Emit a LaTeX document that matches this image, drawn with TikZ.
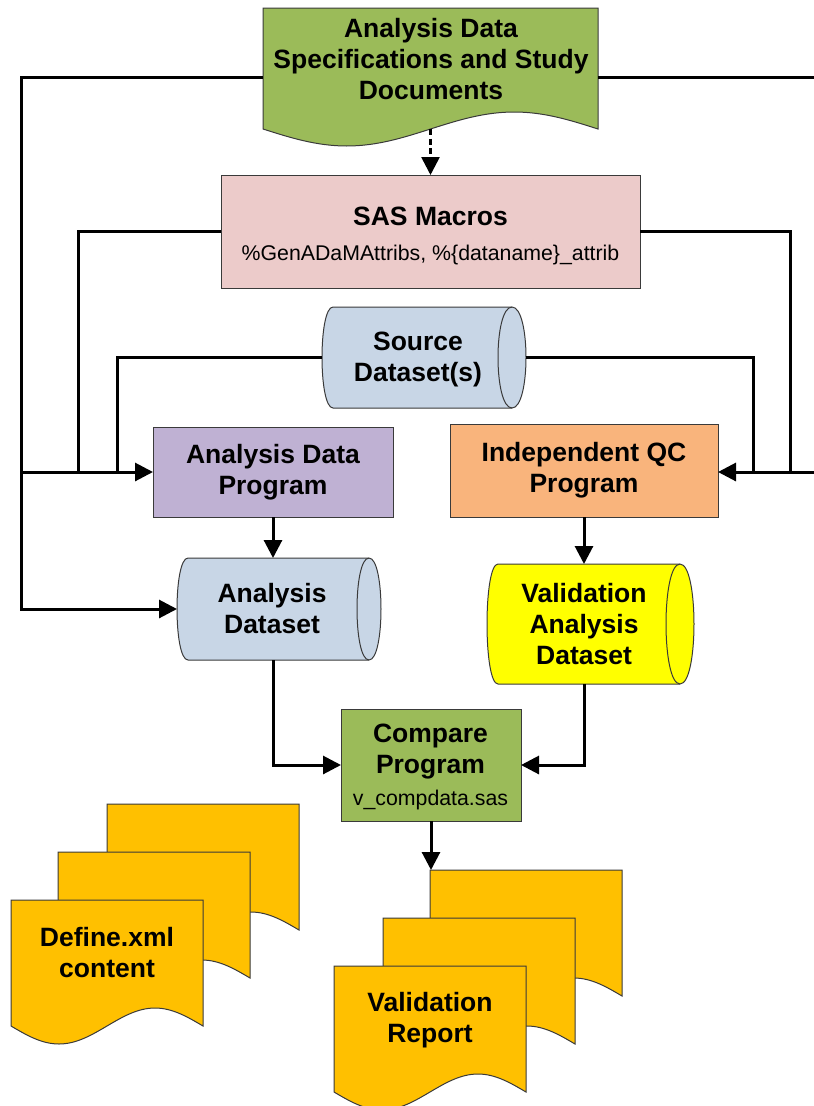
\documentclass[tikz,border=0pt]{standalone}
\usepackage{fontspec}
\setmainfont{Liberation Sans}
\usetikzlibrary{arrows.meta,calc}

\definecolor{specgreen}{HTML}{9BBB59}
\definecolor{macropink}{HTML}{ECCBCA}
\definecolor{datablue}{HTML}{C8D6E6}
\definecolor{progpurple}{HTML}{BFB1D3}
\definecolor{qcorange}{HTML}{F9B47C}
\definecolor{valyellow}{HTML}{FFFF00}
\definecolor{docgold}{HTML}{FFC000}
\definecolor{edgegray}{HTML}{3A3A3A}

\newcommand\lblbig{\bfseries\fontsize{26.5}{31}\selectfont}
\newcommand\lblsmall{\mdseries\fontsize{21.3}{25}\selectfont}

\tikzset{
  shapeline/.style={draw=edgegray, line width=1pt},
  shapeframe/.style={inner sep=0pt, outer sep=0pt},
  procbox/.style={shapeframe, shapeline, align=center, font=\lblbig},
  txt/.style={align=center, inner sep=0pt, outer sep=0pt, font=\lblbig},
  conn/.style={line width=3pt, draw=black},
  arrowed/.style={-{Triangle[length=18pt,width=18pt]}},
  dashedconn/.style={conn, line width=2.6pt, dash pattern=on 6pt off 3.5pt},
}

% document with a wavy bottom edge; the frame's south is the lowest point of the wave
\newcommand\wavydoc[3]{%
  \filldraw[shapeline, fill=#3] (#1.north west) -- (#1.north east)
    -- ($(#1.south east)+(0,-#2)$)
    sin ($(#1.south west)!0.75!(#1.south east)+(0,-2*#2)$)
    cos ($(#1.south west)!0.5!(#1.south east)+(0,-#2)$)
    sin ($(#1.south west)!0.25!(#1.south east)$)
    cos ($(#1.south west)+(0,-#2)$) -- cycle;}

% horizontal data store; the frame is the straight body, #2/#3 the left/right bulges
\newcommand\datastore[4]{%
  \filldraw[shapeline, fill=#4] (#1.north west) -- (#1.north east)
    .. controls ($(#1.north east)+(4/3*#3,0)$) and ($(#1.south east)+(4/3*#3,0)$) .. (#1.south east)
    -- (#1.south west)
    .. controls ($(#1.south west)+(-4/3*#2,0)$) and ($(#1.north west)+(-4/3*#2,0)$) .. (#1.north west)
    -- cycle;
  \draw[shapeline] (#1.north east)
    .. controls ($(#1.north east)+(-4/3*#3,0)$) and ($(#1.south east)+(-4/3*#3,0)$) .. (#1.south east);}

\begin{document}
\begin{tikzpicture}[x=1pt,y=-1pt]
\path[use as bounding box] (0,0) rectangle (814,1106);

% vertical rails of the feed lines and the points where lines leave the sheet
\coordinate (rail-l) at (21,0);
\coordinate (rail-m) at (78,0);
\coordinate (rail-n) at (117,0);
\coordinate (rail-r1) at (753,0);
\coordinate (rail-r2) at (790,0);
\coordinate (edge-t) at (814,77);
\coordinate (edge-b) at (814,472);

% specifications document
\node[shapeframe, minimum width=335pt, minimum height=138pt] (spec) at (430.5,77) {};
\wavydoc{spec}{17}{specgreen}
\node[txt] (spec-t) at (431,59) {Analysis Data\\Specifications and Study\\Documents};
\coordinate (spec-b) at ($(spec.south)+(0,-17)$);

% SAS macros
\node[procbox, fill=macropink, minimum width=419pt, minimum height=113pt] (sas) at (430.5,231.5) {};
\node[txt] (sas-t) at (430.5,235.5) {SAS Macros\\[4pt]{\lblsmall \%GenADaMAttribs, \%\{dataname\}\_attrib}};

% source data
\node[shapeframe, minimum width=179pt, minimum height=101pt] (src) at (422.5,357.5) {};
\datastore{src}{11}{14}{datablue}
\node[txt] (src-t) at (418,359.5) {Source\\Dataset(s)};
\coordinate (src-l) at ($(src.west)+(-11,0)$);
\coordinate (src-r) at ($(src.east)+(14,0)$);

% programs
\node[procbox, fill=progpurple, minimum width=240pt, minimum height=90pt] (adp) at (273,472) {Analysis Data\\Program};
\node[procbox, fill=qcorange, minimum width=268pt, minimum height=93pt] (qc) at (584,470.5) {Independent QC\\Program};

% datasets
\node[shapeframe, minimum width=181pt, minimum height=102pt] (ads) at (278.5,609) {};
\datastore{ads}{11}{12}{datablue}
\node[txt] (ads-t) at (272,609) {Analysis\\Dataset};
\coordinate (ads-l) at ($(ads.west)+(-11,0)$);

\node[shapeframe, minimum width=182pt, minimum height=120pt] (vds) at (589,624) {};
\datastore{vds}{11}{14}{valyellow}
\node[txt] (vds-t) at (584,624) {Validation\\Analysis\\Dataset};

% compare program
\node[procbox, fill=specgreen, minimum width=180pt, minimum height=112pt] (cmp) at (431,765) {};
\node[txt] (cmp-t) at (430.5,766.5) {Compare\\Program\\[1pt]{\lblsmall v\_compdata.sas}};

% define.xml stack
\node[shapeframe, minimum width=192pt, minimum height=144pt] (def3) at (203,876) {};
\node[shapeframe, minimum width=192pt, minimum height=144pt] (def2) at (154,924) {};
\node[shapeframe, minimum width=192pt, minimum height=144pt] (def1) at (107,972) {};
\wavydoc{def3}{18}{docgold}
\wavydoc{def2}{18}{docgold}
\wavydoc{def1}{18}{docgold}
\node[txt] (def-t) at (107,952.5) {Define.xml\\content};

% validation report stack
\node[shapeframe, minimum width=192pt, minimum height=144pt] (rep3) at (526,942) {};
\node[shapeframe, minimum width=192pt, minimum height=144pt] (rep2) at (479,990) {};
\node[shapeframe, minimum width=192pt, minimum height=144pt] (rep1) at (430,1038) {};
\wavydoc{rep3}{18}{docgold}
\wavydoc{rep2}{18}{docgold}
\wavydoc{rep1}{18}{docgold}
\node[txt] (rep-t) at (430,1020.5) {Validation\\Report};

% connectors
\draw[dashedconn, arrowed] (spec-b) -- (spec-b |- sas.north);
\draw[conn, arrowed] (spec.west) -| (rail-l |- ads-l) -- (ads-l);
\draw[conn, arrowed] (rail-l |- adp.west) -- (adp.west);
\draw[conn] (sas.west) -| (rail-m |- adp.west);
\draw[conn] (src-l) -| (rail-n |- adp.west);
\draw[conn] (spec.east) -- (edge-t);
\draw[conn, arrowed] (edge-b) -- (qc.east |- edge-b);
\draw[conn] (sas.east) -| (rail-r2 |- edge-b);
\draw[conn] (src-r) -| (rail-r1 |- edge-b);
\draw[conn, arrowed] (adp.south) -- (adp.south |- ads.north);
\draw[conn, arrowed] (qc.south) -- (qc.south |- vds.north);
\draw[conn, arrowed] (adp.south |- ads.south) |- (cmp.west);
\draw[conn, arrowed] (qc.south |- vds.south) |- (cmp.east);
\draw[conn, arrowed] (cmp.south) -- (cmp.south |- rep3.north);
\end{tikzpicture}
\end{document}
